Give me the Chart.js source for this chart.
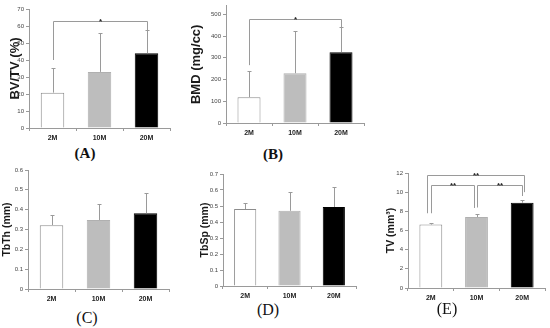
<!DOCTYPE html>
<html lang="en">
<head>
  <meta charset="UTF-8">
  <title>Bone microarchitecture by age</title>
  <script src="https://cdn.jsdelivr.net/npm/chart.js"></script>
  <style>
    body { margin: 0; background: #fff; width: 550px; height: 328px; position: relative; overflow: hidden; }
    canvas { position: absolute; }
    .lbl { position: absolute; font-family: "Liberation Serif", "Times New Roman", serif; font-size: 16px; color: #111; transform: translate(-50%, -50%); }
  </style>
</head>
<body>
  <canvas id="chartA" width="164" height="142" style="left:8px;top:0px"></canvas>
  <canvas id="chartB" width="177" height="137" style="left:189px;top:0px"></canvas>
  <canvas id="chartC" width="170" height="141" style="left:1px;top:162px"></canvas>
  <canvas id="chartD" width="159" height="135" style="left:199px;top:165px"></canvas>
  <canvas id="chartE" width="162" height="139" style="left:385px;top:163px"></canvas>

  <div class="lbl" style="left:85px;top:153px;font-weight:bold;font-size:15px">(A)</div>
  <div class="lbl" style="left:273px;top:154px;font-weight:bold;font-size:15px">(B)</div>
  <div class="lbl" style="left:87px;top:318px">(C)</div>
  <div class="lbl" style="left:268px;top:310px">(D)</div>
  <div class="lbl" style="left:447px;top:309px">(E)</div>

  <script>
    // groups (age)
    const groups = ['2M', '10M', '20M'];

    // means and top of the error bars
    const bvtvMean = [20.8, 33, 44];
    const bvtvTop = [35.4, 55.8, 57.4];
    const bmdMean = [119, 229, 326];
    const bmdTop = [239, 424, 440];
    const tbthMean = [0.322, 0.348, 0.382];
    const tbthTop = [0.372, 0.428, 0.482];
    const tbspMean = [0.481, 0.47, 0.494];
    const tbspTop = [0.518, 0.587, 0.619];
    const tvMean = [6.62, 7.4, 8.9];
    const tvTop = [6.82, 7.75, 9.15];

    // significance brackets: [from, to, level, left end, right end, mark]
    const bvtvSig = [[0, 2, 63, 40, 57.6, '*']];
    const bmdSig = [[0, 2, 477, 266, 440, '*']];
    const tvSig = [
      [0, 2, 11.8, 7.8, 10.0, '**'],
      [0, 1, 10.75, 7.8, 8.35, '**'],
      [1, 2, 10.75, 8.4, 9.6, '**']
    ];

    const barFill = ['#ffffff', '#bdbdbd', '#000000'];
    const barLine = ['#8c8c8c', '#b0b0b0', '#000000'];
    const lineGray = '#9a9a9a';

    // error bars + brackets
    const annotate = {
      id: 'annotate',
      afterDatasetsDraw(chart, args, opts) {
        const { ctx } = chart;
        const x = chart.scales.x, y = chart.scales.y;
        const means = chart.data.datasets[0].data;
        ctx.save();
        ctx.strokeStyle = lineGray;
        ctx.lineWidth = 1;

        opts.tops.forEach((t, i) => {
          const px = Math.round(x.getPixelForValue(i)) + 0.5;
          const y0 = y.getPixelForValue(means[i]);
          const y1 = Math.round(y.getPixelForValue(t)) + 0.5;
          ctx.beginPath();
          ctx.moveTo(px, y0);
          ctx.lineTo(px, y1);
          ctx.moveTo(px - 2, y1);
          ctx.lineTo(px + 2, y1);
          ctx.stroke();
        });

        (opts.sig || []).forEach((s, k) => {
          const [a, b, lvl, ea, eb, mark] = s;
          const off = (opts.shift && opts.shift[k]) || [0, 0];
          const xa = Math.round(x.getPixelForValue(a) + off[0]) + 0.5;
          const xb = Math.round(x.getPixelForValue(b) + off[1]) + 0.5;
          const yl = Math.round(y.getPixelForValue(lvl)) + 0.5;
          ctx.beginPath();
          ctx.moveTo(xa, y.getPixelForValue(ea));
          ctx.lineTo(xa, yl);
          ctx.lineTo(xb, yl);
          ctx.lineTo(xb, y.getPixelForValue(eb));
          ctx.stroke();
          ctx.fillStyle = '#222';
          ctx.font = 'bold 8px "Liberation Sans", Arial, sans-serif';
          ctx.textAlign = 'center';
          ctx.textBaseline = 'alphabetic';
          ctx.fillText(mark, (xa + xb) / 2, yl + 2);
        });
        ctx.restore();
      }
    };

    function makeChart(id, means, tops, cfg) {
      return new Chart(document.getElementById(id), {
        type: 'bar',
        data: {
          labels: groups,
          datasets: [{
            data: means,
            backgroundColor: barFill,
            borderColor: barLine,
            borderWidth: 1,
            barPercentage: 0.5,
            categoryPercentage: 1
          }]
        },
        plugins: [annotate],
        options: {
          responsive: false,
          animation: false,
          events: [],
          layout: { padding: { left: 0, right: 2, top: cfg.padTop, bottom: 0 } },
          plugins: {
            legend: { display: false },
            tooltip: { enabled: false },
            annotate: { tops: tops, sig: cfg.sig, shift: cfg.shift }
          },
          scales: {
            x: {
              grid: { offset: true, drawOnChartArea: false, tickLength: 3, color: lineGray },
              border: { color: lineGray },
              ticks: { color: '#222', padding: 3, font: { size: 7, weight: 'bold', family: '"Liberation Sans", Arial, sans-serif' } },
              afterFit: s => { s.height = 14; }
            },
            y: {
              min: 0,
              max: cfg.max,
              afterBuildTicks: s => { s.ticks = s.ticks.filter(t => Math.abs(t.value / cfg.step - Math.round(t.value / cfg.step)) < 1e-6); },
              ticks: { stepSize: cfg.step, color: '#444', padding: 2, font: { size: 6, family: '"Liberation Sans", Arial, sans-serif' } },
              grid: { drawOnChartArea: false, tickLength: 3, color: lineGray },
              border: { color: lineGray },
              title: {
                display: true,
                text: cfg.title,
                color: '#1a1a1a',
                padding: 0,
                font: { size: cfg.titleSize, weight: 'bold', family: '"Liberation Sans", Arial, sans-serif' }
              },
              afterFit: s => { s.width = cfg.axisW; }
            }
          }
        }
      });
    }

    makeChart('chartA', bvtvMean, bvtvTop, { title: 'BV/TV (%)', max: 70, step: 10, padTop: 9, axisW: 21, titleSize: 13, sig: bvtvSig });
    makeChart('chartB', bmdMean, bmdTop, { title: 'BMD (mg/cc)', max: 540, step: 100, padTop: 5, axisW: 37, titleSize: 13, sig: bmdSig });
    makeChart('chartC', tbthMean, tbthTop, { title: 'TbTh (mm)', max: 0.6, step: 0.1, padTop: 8, axisW: 27, titleSize: 10.5 });
    makeChart('chartD', tbspMean, tbspTop, { title: 'TbSp (mm)', max: 0.7, step: 0.1, padTop: 9, axisW: 24, titleSize: 10.5 });
    makeChart('chartE', tvMean, tvTop, {
      title: 'TV (mm³)', max: 12, step: 2, padTop: 10, axisW: 23, titleSize: 10.5, sig: tvSig,
      shift: [[-3.5, 2], [0.5, -2.5], [0, 0]]
    });
  </script>
</body>
</html>
